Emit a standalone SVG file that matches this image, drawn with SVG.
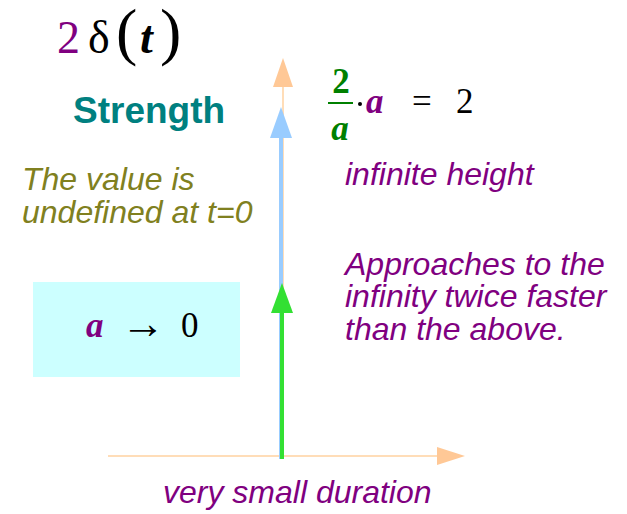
<svg xmlns="http://www.w3.org/2000/svg" width="627" height="514" viewBox="0 0 627 514">
<style>
.sans{font-family:"Liberation Sans",Arial,sans-serif}
.serif{font-family:"Liberation Serif","Times New Roman",serif}
.it{font-style:italic}
.purple{fill:#800080}
.olive{fill:#808020}
</style>
<rect width="627" height="514" fill="#ffffff"/>
<g id="connectors">
  <line x1="108" y1="456" x2="440" y2="456" stroke="#FFDDB8" stroke-width="2"/>
  <polygon points="465,456 437,447 437,465" fill="#FFC896"/>
  <line x1="283" y1="458" x2="283" y2="84" stroke="#FFDDB8" stroke-width="2"/>
  <polygon points="283,58 273,87 293,87" fill="#FFC896"/>
  <line x1="281" y1="459" x2="281" y2="136" stroke="#99CCFF" stroke-width="4"/>
  <polygon points="281,107 270,138 292,138" fill="#99CCFF"/>
  <line x1="282" y1="459" x2="282" y2="311" stroke="#33E033" stroke-width="4"/>
  <polygon points="282,283 271,313 293,313" fill="#33E033"/>
</g>
<g id="title">
  <text x="57" y="53" class="serif purple" font-size="46">2</text>
  <text x="88" y="53" class="serif" font-size="46" fill="#000">δ</text>
  <text x="116" y="53" class="serif" font-size="64" fill="#000">(</text>
  <text x="140" y="53" class="serif" font-size="46" font-weight="bold" font-style="italic" fill="#000">t</text>
  <text x="160" y="53" class="serif" font-size="64" fill="#000">)</text>
</g>
<g id="strength">
  <text x="73" y="123" class="sans" font-size="37" font-weight="bold" fill="#008080">Strength</text>
</g>
<g id="undefined">
  <text class="sans it olive" font-size="32"><tspan x="22" y="190">The value is</tspan><tspan x="22" y="223">undefined at t=0</tspan></text>
</g>
<g id="equation">
  <text x="341" y="93" class="serif" font-size="35" font-weight="bold" fill="#008000" text-anchor="middle">2</text>
  <line x1="328" y1="103" x2="353" y2="103" stroke="#008000" stroke-width="2"/>
  <text x="340" y="140" class="serif" font-size="35" font-weight="bold" font-style="italic" fill="#008000" text-anchor="middle">a</text>
  <circle cx="360" cy="104" r="2" fill="#000"/>
  <text x="366" y="113" class="serif purple" font-size="35" font-weight="bold" font-style="italic">a</text>
  <text x="412" y="113" class="serif" font-size="35" fill="#000">=</text>
  <text x="456" y="113" class="serif" font-size="35" fill="#000">2</text>
</g>
<g id="infinite">
  <text x="345" y="185" class="sans it purple" font-size="32">infinite height</text>
</g>
<g id="approaches">
  <text class="sans it purple" font-size="32"><tspan x="345" y="275">Approaches to the</tspan><tspan x="345" y="307">infinity twice faster</tspan><tspan x="345" y="340">than the above.</tspan></text>
</g>
<g id="limitbox">
  <rect x="33" y="282" width="207" height="95" fill="#CCFFFF"/>
  <text x="86" y="337" class="serif purple" font-size="35" font-weight="bold" font-style="italic">a</text>
  <text x="121" y="338" class="serif" font-size="44" fill="#000">→</text>
  <text x="181" y="337" class="serif" font-size="35" fill="#000">0</text>
</g>
<g id="duration">
  <text x="163" y="503" class="sans it purple" font-size="32">very small duration</text>
</g>
</svg>
